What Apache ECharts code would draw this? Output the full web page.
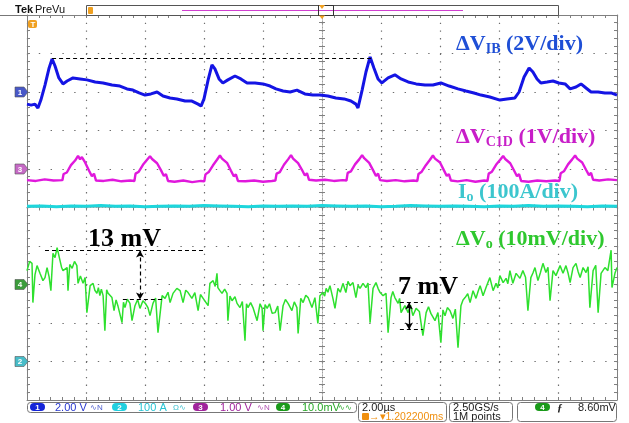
<!DOCTYPE html>
<html><head><meta charset="utf-8">
<script src="https://cdn.jsdelivr.net/npm/echarts@6/dist/echarts.min.js"></script>
<style>html,body{margin:0;padding:0;background:#fff}#c{width:629px;height:423px}</style>
</head><body><div id="c"></div>
<script>
// ---- Scope settings (10 div horizontally, 10 div vertically) ----
const timeRange = [-10, 10];          // µs, 2.00 µs/div
const timeDiv = 2;
// channel scale (units/div) and zero position (div above bottom)
const ch1Scale = 2,   ch1ZeroDiv = 8;   // ΔV_IB  V
const ch2Scale = 100, ch2ZeroDiv = 1;   // Io     A
const ch3Scale = 1,   ch3ZeroDiv = 6;   // ΔV_C1D V
const ch4Scale = 10,  ch4ZeroDiv = 3;   // ΔVo    mV

// ---- Traces: [time µs, value] ----
const ch1 = [[-10.00,-0.63],[-9.86,-0.68],[-9.73,-0.63],[-9.63,-0.83],[-9.53,-0.42],[-9.39,0.36],[-9.25,1.25],[-9.15,1.72],[-9.05,1.35],[-8.92,0.73],
[-8.78,0.42],[-8.64,0.57],[-8.44,0.73],[-8.20,0.68],[-7.97,0.63],[-7.69,0.52],[-7.42,0.47],[-7.12,0.36],[-6.85,0.31],[-6.61,0.16],
[-6.41,0.10],[-6.20,-0.05],[-6.00,-0.16],[-5.80,-0.10],[-5.59,0.00],[-5.39,-0.21],[-5.15,-0.31],[-4.92,-0.36],[-4.64,-0.47],[-4.41,-0.47],
[-4.20,-0.63],[-4.10,-0.73],[-4.00,-0.36],[-3.86,0.63],[-3.73,1.41],[-3.63,1.20],[-3.49,0.68],[-3.36,0.47],[-3.19,0.63],[-2.95,0.83],
[-2.75,0.68],[-2.54,0.47],[-2.27,0.47],[-2.00,0.42],[-1.76,0.31],[-1.56,0.16],[-1.32,0.05],[-1.08,0.00],[-0.85,0.10],[-0.58,-0.10],
[-0.31,-0.16],[-0.07,-0.16],[0.20,-0.21],[0.47,-0.31],[0.75,-0.36],[0.98,-0.47],[1.15,-0.63],[1.22,-0.83],[1.36,0.10],[1.49,1.04],
[1.63,1.82],[1.76,1.25],[1.90,0.68],[2.03,0.47],[2.24,0.73],[2.47,0.89],[2.68,0.68],[2.92,0.52],[3.19,0.42],[3.49,0.36],
[3.76,0.36],[4.03,0.47],[4.31,0.31],[4.61,0.16],[4.88,0.05],[5.15,-0.05],[5.39,-0.16],[5.69,-0.26],[6.03,-0.42],[6.27,-0.36],
[6.54,-0.31],[6.68,0.00],[6.85,0.78],[7.02,1.25],[7.15,1.04],[7.29,0.68],[7.42,0.47],[7.63,0.52],[7.83,0.57],[8.03,0.47],
[8.24,0.42],[8.41,0.16],[8.61,0.26],[8.78,0.42],[8.95,0.21],[9.12,0.00],[9.36,0.00],[9.59,-0.05],[9.80,-0.05],[10.00,-0.16]];

const ch2 = [[-10,403],[-9.5,404],[-9,402],[-8.5,404],[-8,403],[-7.5,405],[-7,403],[-6.5,404],[-6,402],[-5.5,403],
[-5,404],[-4.5,403],[-4,405],[-3.5,404],[-3,403],[-2.5,402],[-2,404],[-1.5,403],[-1,404],[-0.5,403],
[0,405],[0.5,404],[1,403],[1.5,404],[2,402],[2.5,403],[3,405],[3.5,404],[4,403],[4.5,404],
[5,403],[5.5,402],[6,404],[6.5,403],[7,405],[7.5,403],[8,404],[8.5,403],[9,402],[9.5,404],[10,403]];

const ch3 = [[-10.00,-0.29],[-9.70,-0.31],[-9.40,-0.27],[-9.10,-0.30],[-8.80,-0.29],
[-8.76,-0.13],[-8.65,-0.09],[-8.51,0.10],[-8.37,0.22],[-8.27,0.34],[-8.20,0.25],[-8.14,0.31],[-8.03,0.17],[-7.90,-0.04],[-7.80,-0.19],[-7.73,-0.12],[-7.66,-0.30],
[-7.40,-0.31],[-7.10,-0.28],[-6.80,-0.32],[-6.50,-0.30],[-6.36,-0.31],
[-6.32,-0.12],[-6.21,-0.07],[-6.07,0.11],[-5.93,0.24],[-5.83,0.33],[-5.76,0.26],[-5.70,0.30],[-5.59,0.15],[-5.46,-0.03],[-5.36,-0.18],[-5.29,-0.13],[-5.22,-0.31],
[-5.00,-0.33],[-4.70,-0.30],[-4.40,-0.34],[-4.10,-0.31],[-3.99,-0.32],
[-3.95,-0.14],[-3.84,-0.08],[-3.70,0.09],[-3.56,0.24],[-3.46,0.35],[-3.39,0.27],[-3.33,0.32],[-3.22,0.16],[-3.09,-0.04],[-2.99,-0.19],[-2.92,-0.14],[-2.85,-0.31],
[-2.60,-0.32],[-2.30,-0.30],[-2.00,-0.33],[-1.70,-0.31],[-1.58,-0.30],
[-1.54,-0.12],[-1.43,-0.08],[-1.29,0.11],[-1.15,0.25],[-1.05,0.36],[-0.98,0.27],[-0.92,0.31],[-0.81,0.15],[-0.68,-0.02],[-0.58,-0.17],[-0.51,-0.11],[-0.44,-0.28],
[-0.20,-0.30],[0.10,-0.28],[0.40,-0.31],[0.70,-0.29],[0.83,-0.30],
[0.87,-0.10],[0.98,-0.06],[1.12,0.12],[1.26,0.25],[1.36,0.36],[1.43,0.28],[1.49,0.32],[1.60,0.16],[1.73,-0.03],[1.83,-0.18],[1.90,-0.12],[1.97,-0.29],
[2.20,-0.31],[2.50,-0.29],[2.80,-0.32],[3.10,-0.30],[3.23,-0.31],
[3.27,-0.13],[3.38,-0.07],[3.52,0.10],[3.66,0.24],[3.76,0.35],[3.83,0.27],[3.89,0.31],[4.00,0.17],[4.13,-0.03],[4.23,-0.18],[4.30,-0.13],[4.37,-0.30],
[4.60,-0.32],[4.90,-0.29],[5.20,-0.33],[5.50,-0.30],[5.61,-0.31],
[5.65,-0.12],[5.76,-0.07],[5.90,0.11],[6.04,0.24],[6.14,0.34],[6.21,0.26],[6.27,0.30],[6.38,0.15],[6.51,-0.04],[6.61,-0.19],[6.68,-0.13],[6.75,-0.31],
[7.00,-0.33],[7.30,-0.30],[7.60,-0.32],[7.90,-0.30],[8.05,-0.31],
[8.09,-0.11],[8.20,-0.06],[8.34,0.12],[8.48,0.25],[8.58,0.35],[8.65,0.27],[8.71,0.32],[8.82,0.17],[8.95,-0.02],[9.05,-0.16],[9.12,-0.10],[9.19,-0.28],
[9.40,-0.30],[9.70,-0.27],[10.00,-0.29]];

const ch4 = [[-10.00,3.6],[-9.91,6.0],[-9.83,5.5],[-9.80,-4.7],[-9.73,2.5],[-9.66,4.9],[-9.56,2.9],[-9.46,1.0],[-9.39,1.8],[-9.32,4.4],[-9.25,2.0],[-9.19,-1.6],[-9.12,8.1],
[-9.05,7.0],[-8.98,9.6],[-8.88,6.2],[-8.83,4.5],[-8.78,3.6],[-8.64,4.4],[-8.61,-1.6],[-8.55,5.2],[-8.47,4.2],[-8.39,6.0],[-8.31,4.9],[-8.27,0.3],[-8.19,2.2],[-8.10,0.3],[-8.03,1.8],[-7.97,-7.3],
[-7.86,-0.3],[-7.76,0.3],[-7.70,-1.5],[-7.63,-2.3],[-7.58,-0.8],[-7.53,-2.9],[-7.48,-1.2],[-7.42,-2.9],[-7.36,-12.0],[-7.30,-1.4],[-7.25,-2.3],[-7.12,-3.4],[-7.05,-6.8],[-6.98,-4.0],[-6.92,-5.5],
[-6.78,-9.9],[-6.73,-4.6],[-6.68,-6.0],[-6.60,-3.8],[-6.51,-4.9],[-6.44,-9.4],[-6.34,-5.5],[-6.25,-3.9],[-6.17,-6.2],[-6.07,-4.2],[-5.98,-5.0],[-5.90,-6.0],[-5.83,-8.1],[-5.73,-4.9],[-5.64,-3.5],
[-5.56,-12.5],[-5.42,-2.9],[-5.32,-3.6],[-5.22,-2.0],[-5.15,-4.7],[-5.05,-2.3],[-4.92,-1.0],[-4.81,-1.6],[-4.71,-4.7],[-4.62,-1.5],[-4.54,-2.1],[-4.41,-3.6],
[-4.31,-2.1],[-4.20,-6.8],[-4.12,-2.6],[-4.03,-3.6],[-3.86,-5.5],[-3.80,0.3],[-3.69,1.0],[-3.62,-0.5],[-3.56,2.9],[-3.53,-0.8],[-3.46,-1.6],[-3.39,-2.3],[-3.30,-1.2],[-3.22,-2.3],
[-3.19,-9.4],[-3.12,-3.0],[-3.05,-4.2],[-2.95,-3.2],[-2.88,-4.9],[-2.78,-6.0],[-2.70,-4.4],[-2.61,-14.6],[-2.56,-5.0],[-2.51,-6.0],[-2.42,-4.7],[-2.34,-6.0],[-2.20,-9.4],[-2.10,-5.0],[-2.03,-6.2],[-2.00,-12.0],
[-1.93,-5.2],[-1.86,-6.2],[-1.78,-5.0],[-1.69,-7.5],[-1.59,-7.3],[-1.50,-5.6],[-1.42,-12.0],[-1.32,-5.5],[-1.24,-3.9],[-1.15,-4.9],[-1.02,-6.8],[-0.94,-4.5],[-0.85,-6.0],[-0.81,-12.7],[-0.72,-3.6],[-0.64,-4.7],
[-0.55,-2.8],[-0.47,-3.4],[-0.34,-6.0],[-0.24,-3.4],[-0.14,-10.1],[-0.07,-2.9],[0.03,-2.1],[0.09,-3.0],[0.14,-1.0],[0.20,-2.0],[0.27,-0.3],[0.37,-3.6],[0.44,-6.2],
[0.54,-1.0],[0.62,-2.0],[0.71,0.3],[0.81,-2.1],[0.88,0.8],[0.95,-0.3],[1.05,0.5],[1.15,-3.4],[1.22,-0.2],[1.29,-1.0],[1.39,0.3],[1.49,-0.8],[1.56,0.4],[1.63,-9.9],
[1.73,-1.0],[1.83,0.5],[1.90,-1.0],[1.97,-2.1],[2.07,-2.9],[2.17,-2.3],[2.24,-12.5],[2.34,-3.4],[2.40,-1.8],[2.47,-3.4],[2.58,-4.9],[2.63,-3.6],[2.68,-7.3],
[2.81,-5.5],[2.92,-7.3],[3.00,-5.4],[3.08,-8.1],[3.19,-6.2],[3.30,-7.0],[3.42,-13.3],[3.53,-7.3],[3.61,-5.8],[3.69,-7.5],[3.83,-9.4],[3.93,-7.3],[4.03,-15.1],
[4.10,-6.6],[4.17,-8.1],[4.25,-6.0],[4.34,-6.8],[4.44,-8.8],[4.52,-6.4],[4.61,-16.4],[4.71,-5.5],[4.78,-4.0],[4.85,-3.4],[4.94,-2.4],[5.02,-4.7],[5.12,-1.6],[5.22,-3.6],[5.29,-1.8],[5.36,-0.3],
[5.46,-2.9],[5.56,-0.8],[5.69,1.8],[5.80,-1.6],[5.90,0.3],[5.96,-0.9],[6.03,2.3],[6.14,0.5],[6.24,1.6],[6.30,0.2],[6.37,3.6],[6.47,0.3],
[6.58,2.9],[6.71,1.6],[6.81,3.6],[6.90,1.9],[6.98,-6.8],[7.08,1.8],[7.15,3.0],[7.22,4.4],[7.32,1.0],[7.40,3.0],[7.49,5.5],[7.59,3.1],[7.66,4.5],[7.73,-4.2],
[7.83,3.6],[7.93,2.3],[8.07,4.9],[8.17,2.9],[8.27,4.9],[8.34,3.0],[8.41,0.5],[8.51,4.4],[8.61,5.5],[8.68,3.4],[8.75,1.8],[8.85,4.4],
[8.95,3.1],[9.02,4.6],[9.08,-6.0],[9.19,3.6],[9.28,5.0],[9.36,-7.3],[9.46,2.9],[9.59,4.4],[9.69,3.6],[9.80,8.9],[9.83,-0.8],[9.93,2.9],[10.00,4.4]];

// ---- Annotation levels ----
const ch1PeakLevel = 1.77;           // V, dashed line through ΔV_IB peaks
const ch1PeakSpan = [-9.15, 1.69];   // µs
const ripple13 = [8.85, -3.9];       // mV (13 mV)
const ripple13Span = [-9.39, -3.97]; // top line span µs
const ripple13LowSpan = [-6.75, -5.39];
const ripple13At = -6.17;
const ripple7 = [-4.7, -11.7];       // mV (7 mV)
const ripple7Span = [2.64, 3.42];
const ripple7At = 2.95;

function chAxis(scale, zeroDiv) {
  return {type:'value', show:false, min:-zeroDiv*scale, max:(10-zeroDiv)*scale};
}

const grey = '#808080';
const serif = '"Liberation Serif","Times New Roman",serif';
const sans = '"Liberation Sans",Arial,sans-serif';

const xBase = {type:'value', min:timeRange[0], max:timeRange[1], interval:timeDiv,
  axisLabel:{show:false}, splitLine:{show:false},
  axisLine:{show:true, onZero:false, lineStyle:{color:grey, width:1}},
  axisTick:{show:true, inside:true, length:3, lineStyle:{color:grey}},
  minorTick:{show:true, splitNumber:5, length:3, lineStyle:{color:grey}}};
const yBase = {type:'value', min:-5, max:5, interval:1,
  axisLabel:{show:false}, splitLine:{show:false},
  axisLine:{show:true, onZero:false, lineStyle:{color:grey, width:1}},
  axisTick:{show:true, inside:true, length:3, lineStyle:{color:grey}},
  minorTick:{show:true, splitNumber:5, length:3, lineStyle:{color:grey}}};
const centerLine = {show:true, onZero:true, onZeroAxisIndex:0, lineStyle:{color:'#a0a0a0', width:1, type:[1,2]}};

const chart = echarts.init(document.getElementById('c'));
const dash = [4,3];
chart.setOption({
  animation:false,
  backgroundColor:'#fff',
  grid:{left:27, top:15, width:590, height:385, containLabel:false},
  xAxis:[
    Object.assign({}, xBase, {position:'bottom', splitLine:{show:true, lineStyle:{color:'#6e6e6e', width:1.2, type:[1.4,6.3]}}}),
    Object.assign({}, xBase, {position:'top'}),
    Object.assign({}, xBase, {position:'bottom', axisLine:centerLine}),
    Object.assign({}, xBase, {position:'top', axisLine:centerLine})
  ],
  yAxis:[
    Object.assign({}, yBase, {position:'left', splitLine:{show:true, lineStyle:{color:'#6e6e6e', width:1.2, type:[1.4,10.4]}}}),
    Object.assign({}, yBase, {position:'right'}),
    Object.assign({}, yBase, {position:'left', axisLine:centerLine}),
    Object.assign({}, yBase, {position:'right', axisLine:centerLine}),
    chAxis(ch1Scale, ch1ZeroDiv),
    chAxis(ch2Scale, ch2ZeroDiv),
    chAxis(ch3Scale, ch3ZeroDiv),
    chAxis(ch4Scale, ch4ZeroDiv)
  ],
  series:[
    {name:'ch2', type:'line', xAxisIndex:0, yAxisIndex:5, data:ch2, showSymbol:false, lineStyle:{color:'#1ed6dc', width:3}},
    {name:'ch3', type:'line', xAxisIndex:0, yAxisIndex:6, data:ch3, showSymbol:false, lineStyle:{color:'#e018dc', width:2.4}},
    {name:'ch1', type:'line', xAxisIndex:0, yAxisIndex:4, data:ch1, showSymbol:false, lineStyle:{color:'#1414e4', width:3},
      markLine:{silent:true, animation:false, symbol:['none','none'], label:{show:false},
        lineStyle:{color:'#000', type:dash, width:1.2},
        data:[[{coord:[ch1PeakSpan[0], ch1PeakLevel]},{coord:[ch1PeakSpan[1], ch1PeakLevel]}]]}},
    {name:'ch4', type:'line', xAxisIndex:0, yAxisIndex:7, data:ch4, showSymbol:false, lineStyle:{color:'#2ee02e', width:1.5},
      markLine:{silent:true, animation:false, symbol:['none','none'], symbolSize:[6,7], label:{show:false},
        lineStyle:{color:'#000', type:dash, width:1.2},
        data:[
          [{coord:[ripple13Span[0], ripple13[0]]},{coord:[ripple13Span[1], ripple13[0]]}],
          [{coord:[ripple13LowSpan[0], ripple13[1]]},{coord:[ripple13LowSpan[1], ripple13[1]]}],
          [{coord:[ripple13At, ripple13[0]], symbol:'arrow'},{coord:[ripple13At, ripple13[1]], symbol:'arrow'}],
          [{coord:[ripple7Span[0], ripple7[0]]},{coord:[ripple7Span[1], ripple7[0]]}],
          [{coord:[ripple7Span[0], ripple7[1]]},{coord:[ripple7Span[1], ripple7[1]]}],
          [{coord:[ripple7At, ripple7[0]], symbol:'arrow', lineStyle:{type:'solid', width:1.3}},{coord:[ripple7At, ripple7[1]], symbol:'arrow'}]
        ]}}
  ]
});

// ---- decorations ----
function label(x, y, parts, color, size) {
  const rich = {
    m:{fontFamily:serif, fontWeight:'bold', fontSize:size, fill:color, lineHeight:24, verticalAlign:'middle'},
    s:{fontFamily:serif, fontWeight:'bold', fontSize:Math.round(size*0.62), fill:color, lineHeight:12, verticalAlign:'bottom'}
  };
  return {type:'text', left:x, top:y, z:50, style:{text:parts, rich:rich}};
}
function pill(x, y, w, color, t) {
  return [{type:'rect', shape:{x:x, y:y, width:w, height:8, r:4}, style:{fill:color}, z:50},
          {type:'text', x:x+w/2, y:y+4.5, z:51, style:{text:t, fill:'#fff', font:'bold 8px '+sans, align:'center', verticalAlign:'middle'}}];
}
function stxt(x, y, t, color, extra) {
  return {type:'text', x:x, y:y, z:50, style:Object.assign({text:t, fill:color, font:'11px '+sans, verticalAlign:'middle'}, extra||{})};
}
function chMarker(yIdx, color, t) {
  const y = chart.convertToPixel({yAxisIndex:yIdx}, 0);
  return [{type:'polygon', z:60, shape:{points:[[15,y-5],[24,y-5],[28,y],[24,y+5],[15,y+5]]}, style:{fill:color, stroke:'#555', lineWidth:0.6}},
          {type:'text', z:61, x:20, y:y+0.5, style:{text:t, fill:'#fff', font:'bold 8px '+sans, align:'center', verticalAlign:'middle'}}];
}
const xc = chart.convertToPixel({xAxisIndex:0}, 0);

const g = [].concat(
  [{type:'text', x:15, y:10, z:50, style:{text:'Tek', font:'bold 11px '+sans, fill:'#111', verticalAlign:'middle'}},
   {type:'text', x:35, y:10, z:50, style:{text:'PreVu', font:'11px '+sans, fill:'#111', verticalAlign:'middle'}},
   {type:'line', z:40, shape:{x1:0, y1:15.5, x2:27, y2:15.5}, style:{stroke:'#777', lineWidth:1}},
   {type:'rect', z:45, shape:{x:86.5, y:5.5, width:472, height:10}, style:{fill:'#fff', stroke:'#555', lineWidth:1}},
   {type:'line', z:46, shape:{x1:182, y1:10.5, x2:463, y2:10.5}, style:{stroke:'#d040d0', lineWidth:1}},
   {type:'rect', z:46, shape:{x:88, y:7, width:5, height:7, r:1}, style:{fill:'#f0a020'}},
   {type:'rect', z:47, shape:{x:xc-3.5, y:5.5, width:15, height:10}, style:{fill:'none', stroke:'#333', lineWidth:1}},
   {type:'polygon', z:47, shape:{points:[[xc-3,5],[xc+3,5],[xc,9]]}, style:{fill:'#f0a020'}},
   {type:'polygon', z:47, shape:{points:[[xc-3,15.5],[xc+3,15.5],[xc,19]]}, style:{fill:'#f0a020'}},
   {type:'rect', z:60, shape:{x:28, y:20, width:9, height:8, r:2}, style:{fill:'#f0a020'}},
   {type:'text', z:61, x:33, y:24.5, style:{text:'T', font:'bold 8px '+sans, fill:'#fff', align:'center', verticalAlign:'middle'}}],
  chMarker(4, '#4858c8', '1'),
  chMarker(6, '#c66ac6', '3'),
  chMarker(7, '#3c9c3c', '4'),
  chMarker(5, '#48bcc8', '2'),
  [label(456, 33, '{m|ΔV}{s|IB}{m| (2V/div)}', '#1f4fd6', 22),
   label(456, 126, '{m|ΔV}{s|C1D}{m| (1V/div)}', '#c81ec8', 22),
   label(458, 181, '{m|I}{s|o}{m| (100A/div)}', '#3cc6ce', 22),
   label(456, 228, '{m|ΔV}{s|o}{m| (10mV/div)}', '#2ec82e', 22),
   {type:'text', x:88, y:239, z:50, style:{text:'13 mV', font:'bold 26px '+serif, fill:'#000', verticalAlign:'middle'}},
   {type:'text', x:398, y:287, z:50, style:{text:'7 mV', font:'bold 26px '+serif, fill:'#000', verticalAlign:'middle'}},
   // status bar
   {type:'rect', z:45, shape:{x:27.5, y:402.5, width:329, height:10, r:3}, style:{fill:'#fff', stroke:'#777', lineWidth:1}},
   {type:'rect', z:45, shape:{x:358.5, y:402.5, width:88, height:19, r:3}, style:{fill:'#fff', stroke:'#777', lineWidth:1}},
   {type:'rect', z:45, shape:{x:449.5, y:402.5, width:63, height:19, r:3}, style:{fill:'#fff', stroke:'#777', lineWidth:1}},
   {type:'rect', z:45, shape:{x:517.5, y:402.5, width:99, height:19, r:3}, style:{fill:'#fff', stroke:'#777', lineWidth:1}}],
  pill(30, 403, 15, '#1424d8', '1'),
  [stxt(55, 408, '2.00 V', '#2838d0'), stxt(90, 408, '∿N', '#5060d0', {font:'8px '+sans})],
  pill(112, 403, 15, '#22d0e0', '2'),
  [stxt(138, 408, '100 A', '#28c4d4'), stxt(173, 408, 'Ω∿', '#40c0d0', {font:'8px '+sans})],
  pill(193, 403, 15, '#a0249c', '3'),
  [stxt(220, 408, '1.00 V', '#a0249c'), stxt(257, 408, '∿N', '#b050b0', {font:'8px '+sans})],
  pill(276, 403, 14, '#1a9a1a', '4'),
  [stxt(302, 408, '10.0mV', '#28a828'), stxt(338, 408, '∿∿', '#28a828', {font:'8px '+sans}),
   stxt(362, 408, '2.00µs', '#222'),
   {type:'rect', z:50, shape:{x:362, y:413, width:7, height:7, r:1}, style:{fill:'#f09010'}},
   stxt(369, 417, '→▾1.202200ms', '#f09010', {font:'10.5px '+sans}),
   stxt(453, 408, '2.50GS/s', '#222'),
   stxt(453, 417, '1M points', '#222')],
  pill(535, 403, 15, '#1a9a1a', '4'),
  [stxt(557, 408, 'ƒ', '#222', {font:'italic bold 11px '+serif}),
   stxt(578, 408, '8.60mV', '#222')]
);
chart.setOption({graphic:g});
</script></body></html>
